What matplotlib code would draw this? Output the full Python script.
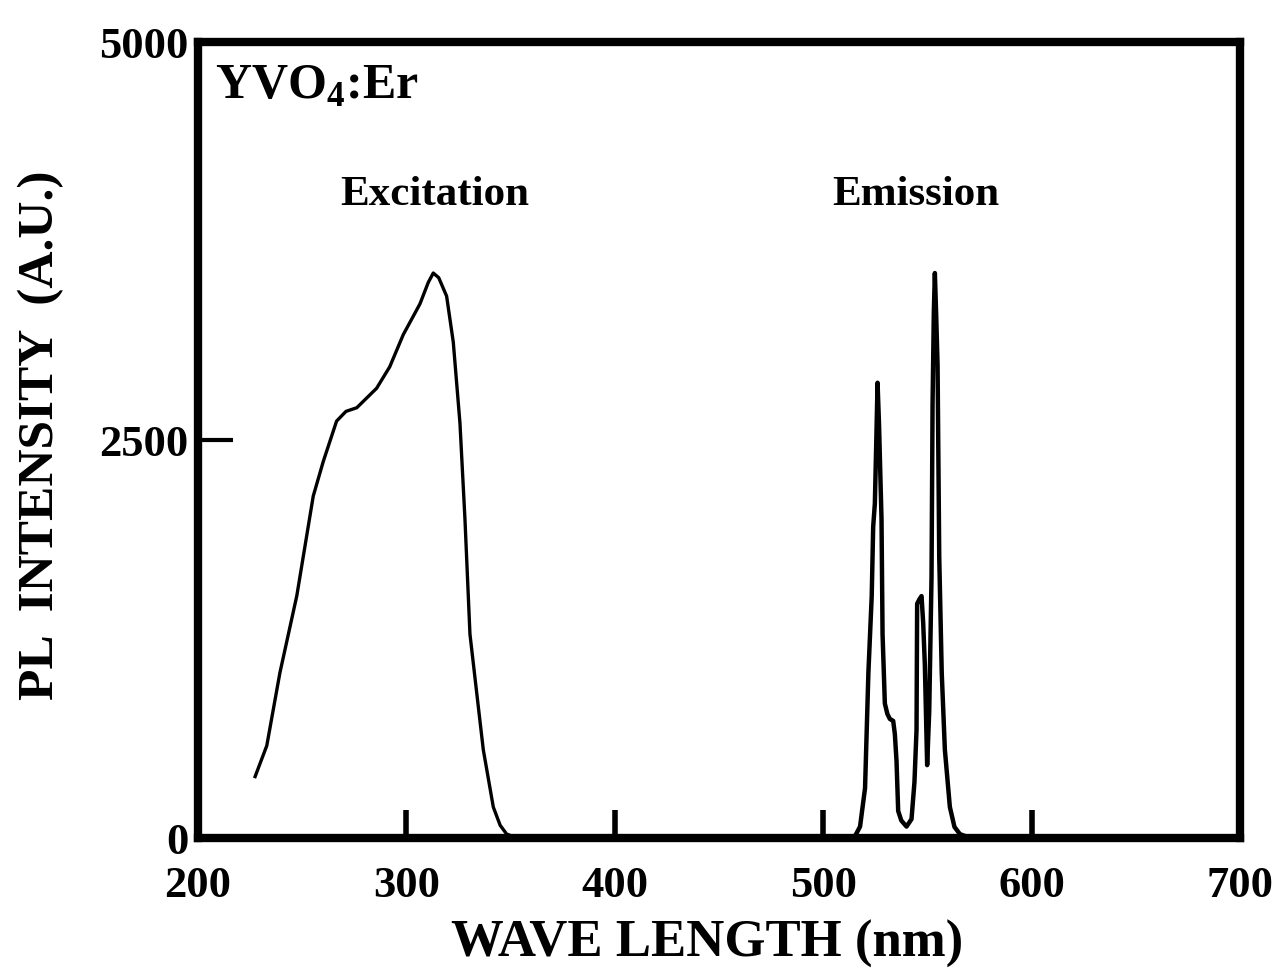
import numpy as np
import matplotlib.pyplot as plt

plt.rcParams['font.family'] = ['Liberation Serif', 'DejaVu Serif']
plt.rcParams['font.weight'] = 'bold'
plt.rcParams['mathtext.fontset'] = 'custom'
plt.rcParams['mathtext.rm'] = 'Liberation Serif:bold'
plt.rcParams['mathtext.bf'] = 'Liberation Serif:bold'

# excitation spectrum
exc_wl = [227.4, 233.0, 239.3, 247.4, 255.3, 260.1, 266.5, 271.0, 276.2, 285.7,
          292.0, 298.5, 306.5, 310.5, 312.9, 315.5, 319.3, 322.5, 325.7, 328.1,
          330.5, 333.7, 336.9, 341.7, 345.0, 348.1, 352.0, 356.0]
exc_int = [386, 580, 1038, 1521, 2148, 2365, 2619, 2680, 2703, 2825,
           2960, 3162, 3355, 3490, 3549, 3520, 3404, 3115, 2607, 2004,
           1281, 917, 555, 195, 80, 25, 5, 0]

# emission spectrum
emi_wl = [510.0, 515.0, 517.7, 520.1, 521.7, 523.3, 524.0, 524.8, 525.5, 526.1,
          526.8, 527.5, 528.0, 528.5, 529.6, 530.8, 532.0, 533.6, 534.4, 535.2,
          536.0, 537.5, 540.0, 542.4, 543.8, 544.8, 545.1, 546.2, 547.2, 548.0,
          548.8, 549.9, 550.9, 552.0, 552.5, 553.1, 553.6, 554.2, 554.9, 555.7,
          556.9, 558.4, 560.8, 563.0, 565.6, 570.0, 575.0]
emi_int = [0, 5, 72, 314, 1038, 1520, 1955, 2100, 2500, 2860,
           2600, 2250, 2004, 1281, 845, 780, 748, 736, 653, 484,
           170, 110, 72, 119, 350, 678, 1472, 1500, 1520, 1350,
           1087, 458, 798, 1641, 2728, 3300, 3549, 3300, 2971, 1765,
           1038, 555, 195, 70, 25, 3, 0]

x_ticks = [200, 300, 400, 500, 600, 700]
y_ticks = [0, 2500, 5000]

fig = plt.figure(figsize=(12.75, 9.73), dpi=100)
ax = fig.add_axes([0.1553, 0.1387, 0.8172, 0.8181])

ax.plot(exc_wl, exc_int, color='black', lw=2.4)
ax.plot(emi_wl, emi_int, color='black', lw=3.2)

ax.set_xlim(200, 700)
ax.set_ylim(0, 5000)
ax.set_xticks(x_ticks)
ax.set_yticks(y_ticks)
ax.set_xticklabels([str(t) for t in x_ticks], fontsize=32, fontweight='bold')
ax.set_yticklabels([str(t) for t in y_ticks], fontsize=32, fontweight='bold')
ax.tick_params(axis='x', direction='in', length=20, width=4, pad=20)
ax.tick_params(axis='y', direction='in', length=25, width=3, pad=7)

for s in ax.spines.values():
    s.set_linewidth(6)

ax.set_xlabel('WAVE LENGTH (nm)', fontsize=38, fontweight='bold')
ax.xaxis.set_label_coords(0.489, -0.103)
ax.set_ylabel('PL  INTENSITY  (A.U.)', fontsize=37, fontweight='bold')
ax.yaxis.set_label_coords(-0.128, 0.506)

ax.text(208, 4640, r'YVO$_{4}$:Er', fontsize=36, fontweight='bold', va='baseline', ha='left')
ax.text(313.7, 3976, 'Excitation', fontsize=31, fontweight='bold', va='baseline', ha='center')
ax.text(544.5, 3976, 'Emission', fontsize=31, fontweight='bold', va='baseline', ha='center')

fig.savefig('out.png', dpi=100)
